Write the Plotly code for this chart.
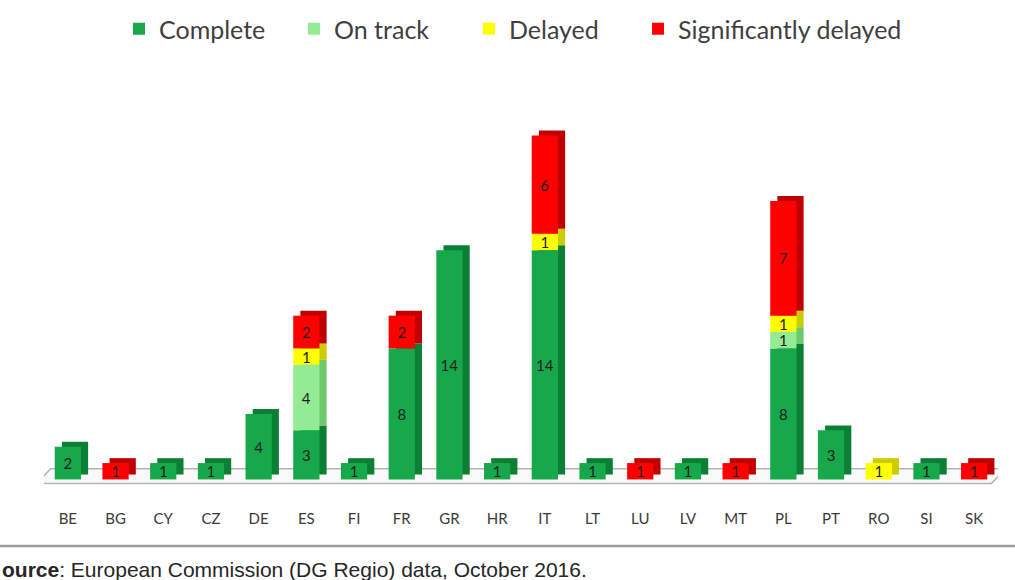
import plotly.graph_objects as go

# Projects per member state by implementation status
countries = ["BE", "BG", "CY", "CZ", "DE", "ES", "FI", "FR", "GR", "HR",
             "IT", "LT", "LU", "LV", "MT", "PL", "PT", "RO", "SI", "SK"]
complete = [2, 0, 1, 1, 4, 3, 1, 8, 14, 1, 14, 1, 0, 1, 0, 8, 3, 0, 1, 0]
on_track = [0, 0, 0, 0, 0, 4, 0, 0, 0, 0, 0, 0, 0, 0, 0, 1, 0, 0, 0, 0]
delayed = [0, 0, 0, 0, 0, 1, 0, 0, 0, 0, 1, 0, 0, 0, 0, 1, 0, 1, 0, 0]
significantly_delayed = [0, 1, 0, 0, 0, 2, 0, 2, 0, 0, 6, 0, 1, 0, 1, 7, 0, 0, 0, 1]

series = [
    ("Complete", complete, "#17a84b", "#0c7f36", "legend"),
    ("On track", on_track, "#93ec93", "#6cc96c", "legend"),
    ("Delayed", delayed, "#ffff00", "#cccc00", "legend"),
    ("Significantly delayed", significantly_delayed, "#ff0000", "#c00000", "legend2"),
]

BAR_W = 0.55          # front face width (category units)
DEPTH_X = 0.15        # extrusion to the right
DEPTH_Y = 0.3         # extrusion upwards (value units)

fig = go.Figure()

# stacked bases
bases = []
running = [0] * len(countries)
for _, vals, _, _, _ in series:
    bases.append(list(running))
    running = [r + v for r, v in zip(running, vals)]

# back faces (side / top of the extruded bars)
for (name, vals, col, dark, lg), base in zip(series, bases):
    fig.add_trace(go.Bar(
        x=countries,
        y=[v if v else None for v in vals],
        base=[b + DEPTH_Y for b in base],
        width=BAR_W, offset=-BAR_W / 2 + DEPTH_X,
        marker=dict(color=dark, line=dict(width=0)),
        showlegend=False, hoverinfo="skip",
    ))

# front faces with value labels
for (name, vals, col, dark, lg), base in zip(series, bases):
    fig.add_trace(go.Bar(
        x=countries,
        y=[v if v else None for v in vals],
        base=base,
        width=BAR_W, offset=-BAR_W / 2,
        name=name, legend=lg,
        marker=dict(color=col, line=dict(width=0)),
        text=[str(v) if v else "" for v in vals],
        textposition="inside", insidetextanchor="middle", textangle=0,
        textfont=dict(family="Lato", size=15, color="#1e1e1e"),
    ))

n = len(countries)
# floor plane under the bars
fig.add_shape(
    type="path", xref="x", yref="y", layer="below",
    path=f"M -0.66,-0.25 L {n - 1 + 0.36},-0.25 L {n - 1 + 0.66},0.65 L -0.36,0.65 Z",
    line=dict(color="#b4b4b4", width=1.5), fillcolor="rgba(245,245,245,0.6)",
)

W, H = 1015, 580
ML, MR, MT, MB = 44, 17, 106, 94
pw, ph = W - ML - MR, H - MT - MB

# footer rule and source line
fig.add_shape(type="line", xref="paper", yref="paper",
              x0=-ML / pw, x1=(W - ML) / pw,
              y0=-(546 - (H - MB)) / ph, y1=-(546 - (H - MB)) / ph,
              line=dict(color="#9c9c9c", width=2.5))
fig.add_annotation(
    xref="paper", yref="paper", x=-ML / pw, y=-(569 - (H - MB)) / ph,
    xanchor="left", yanchor="middle", showarrow=False,
    text="<b>ource</b>: European Commission (DG Regio) data, October 2016.",
    font=dict(family="Liberation Sans", size=21, color="#262626"),
)

legend_style = dict(
    orientation="h", yanchor="middle", yref="container", xref="container",
    xanchor="left", y=1 - 29 / H,
    font=dict(family="Lato", size=25, color="#404040"),
    traceorder="normal", itemclick=False,
)

fig.update_layout(
    width=W, height=H,
    margin=dict(l=ML, r=MR, t=MT, b=MB),
    barmode="overlay",
    paper_bgcolor="white", plot_bgcolor="white",
    uniformtext=dict(minsize=15, mode="show"),
    legend=dict(legend_style, x=(133 - 14) / W,
                entrywidth=130, entrywidthmode="pixels"),
    legend2=dict(legend_style, x=(652 - 14) / W),
    xaxis=dict(
        type="category", range=[-0.5, n - 0.5], showgrid=False,
        showline=False, zeroline=False, ticks="",
        tickfont=dict(family="Lato", size=15, color="#3a3a3a"),
        ticklabelstandoff=22,
    ),
    yaxis=dict(range=[-0.4, 22.8], visible=False, showgrid=False, zeroline=False),
    showlegend=True,
)

fig.write_html("out.html")
